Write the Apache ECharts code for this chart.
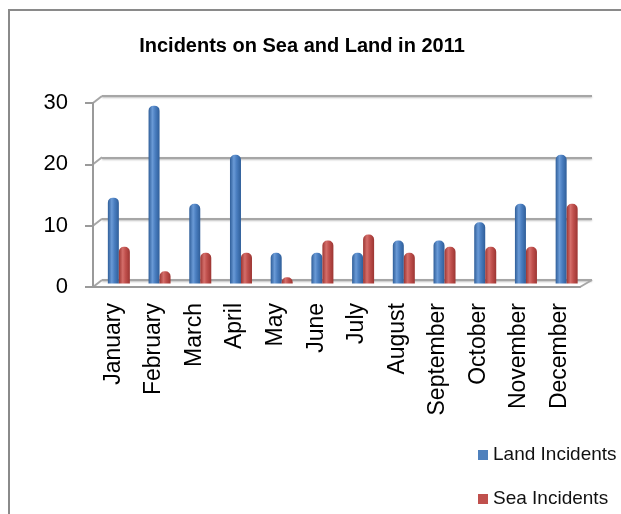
<!DOCTYPE html>
<html><head><meta charset="utf-8">
<script src="https://cdn.jsdelivr.net/npm/echarts@6/dist/echarts.min.js"></script>
<style>html,body{margin:0;padding:0;background:#fff}#c{width:621px;height:514px}</style>
</head><body><div id="c"></div>
<script>
const months = ['January','February','March','April','May','June','July','August','September','October','November','December'];
const landIncidents = [14, 29, 13, 21, 5, 5, 5, 7, 7, 10, 13, 21];
const seaIncidents  = [6, 2, 5, 5, 1, 7, 8, 5, 6, 6, 6, 13];
const yTicks = [0, 10, 20, 30];

const font = 'Liberation Sans, Arial, sans-serif';
function cyl(dark, mid, light) {
  return new echarts.graphic.LinearGradient(0, 0, 1, 0, [
    {offset: 0, color: dark}, {offset: 0.35, color: light}, {offset: 0.6, color: mid}, {offset: 1, color: dark}
  ]);
}
const chart = echarts.init(document.getElementById('c'));
const option = {
  animation: false,
  backgroundColor: '#fff',
  title: {text: 'Incidents on Sea and Land in 2011', left: 297, textAlign: 'center', top: 31,
    textStyle: {fontFamily: font, fontSize: 20, fontWeight: 'bold', color: '#000'}},
  legend: {orient: 'vertical', left: 478, top: 444, padding: 0, itemWidth: 10, itemHeight: 10, itemGap: 22, icon: 'rect',
    textStyle: {fontFamily: font, fontSize: 19, lineHeight: 22, color: '#111'},
    data: [{name: 'Land Incidents', itemStyle: {color: '#4F81BD'}}, {name: 'Sea Incidents', itemStyle: {color: '#C0504D'}}]},
  grid: [
    {left: 93, right: 41, top: 103, bottom: 227},
    {left: 102, right: 29, top: 96, bottom: 234},
    {left: 98.5, right: 34, top: 99.5, bottom: 230.5}
  ],
  xAxis: [
    {type: 'category', gridIndex: 0, data: months, boundaryGap: true,
      axisLine: {lineStyle: {color: '#9a9a9a', width: 2}},
      axisTick: {length: 7, lineStyle: {color: '#9a9a9a', width: 2}},
      axisLabel: {rotate: 90, margin: 16, interval: 0, fontFamily: font, fontSize: 23, color: '#000'}},
    {type: 'category', gridIndex: 1, data: months, show: false},
    {type: 'category', gridIndex: 2, data: months, show: false}
  ],
  yAxis: [
    {type: 'value', gridIndex: 0, min: 0, max: 30, interval: 10,
      axisLine: {show: true, lineStyle: {color: '#9a9a9a', width: 2}},
      axisTick: {show: true, length: 8, lineStyle: {color: '#9a9a9a', width: 2}},
      splitLine: {show: false},
      axisLabel: {margin: 25, fontFamily: font, fontSize: 22, color: '#000'}},
    {type: 'value', gridIndex: 1, min: 0, max: 30, interval: 10,
      axisLine: {show: false}, axisTick: {show: false}, axisLabel: {show: false},
      splitLine: {show: true, lineStyle: {color: '#a6a6a6', width: 2, shadowColor: 'rgba(0,0,0,0.25)', shadowBlur: 2, shadowOffsetY: 1}}},
    {type: 'value', gridIndex: 2, min: 0, max: 30, show: false, splitLine: {show: false}}
  ],
  series: [
    {name: 'Land Incidents', type: 'bar', xAxisIndex: 2, yAxisIndex: 2, data: landIncidents, barWidth: 11, barGap: '0%',
      itemStyle: {color: cyl('#2F5E99', '#4A7EC0', '#6A9AD6'), borderRadius: [5, 5, 0, 0]}},
    {name: 'Sea Incidents', type: 'bar', xAxisIndex: 2, yAxisIndex: 2, data: seaIncidents, barWidth: 11, barGap: '0%',
      itemStyle: {color: cyl('#9C3532', '#C0504D', '#D46E6A'), borderRadius: [5, 5, 0, 0]}}
  ]
};
chart.setOption(option);

// decorative 3D wall edges
const g = [];
g.push({type: 'rect', shape: {x: 9, y: 10, width: 800, height: 700}, style: {fill: 'none', stroke: '#8a8a8a', lineWidth: 2}, z: -1});
yTicks.forEach(v => {
  const yF = chart.convertToPixel({yAxisIndex: 0}, v);
  const yB = chart.convertToPixel({yAxisIndex: 1}, v);
  g.push({type: 'line', shape: {x1: 93, y1: yF, x2: 102, y2: yB}, style: {stroke: '#a6a6a6', lineWidth: 2}});
});
const yF0 = chart.convertToPixel({yAxisIndex: 0}, 0);
const yB0 = chart.convertToPixel({yAxisIndex: 1}, 0);
g.push({type: 'line', shape: {x1: 580, y1: yF0, x2: 592, y2: yB0}, style: {stroke: '#a6a6a6', lineWidth: 2}});
chart.setOption({graphic: g});
</script></body></html>
